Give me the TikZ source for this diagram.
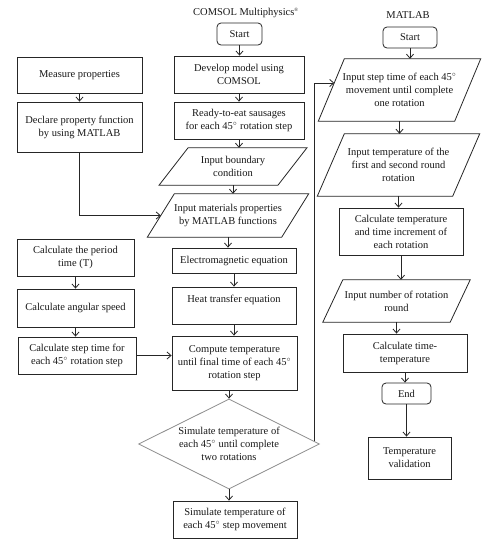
\documentclass[tikz,border=0pt]{standalone}
\usepackage{fontspec}
\setmainfont{Liberation Serif}
\usetikzlibrary{arrows.meta,shapes.geometric,calc}
\tikzset{
  lbl/.style={font=\fontsize{10.5}{13}\selectfont, align=center, inner sep=0pt, text=black!90},
  box/.style 2 args={lbl, draw=black!85, line width=0.8pt, rectangle, minimum width=#1, minimum height=#2},
  rbox/.style 2 args={box={#1}{#2}, rounded corners=4pt},
  pbox/.style 2 args={lbl, rectangle, minimum width=#1, minimum height=#2},
  pline/.style={draw=black!85, line width=0.8pt},
  conn/.style={draw=black!85, line width=0.8pt, -{Straight Barb[length=4pt,width=7pt]}},
}
\newcommand\drawpara[2]{%
  \draw[pline] ($(#1.north west)+(#2/2,0)$) -- ($(#1.north east)+(#2/2,0)$)
    -- ($(#1.south east)-(#2/2,0)$) -- ($(#1.south west)-(#2/2,0)$) -- cycle;}
\begin{document}
\begin{tikzpicture}[x=1pt,y=-1pt]
\fill[white] (0,0) rectangle (490,550);
\useasboundingbox (0,0) rectangle (490,550);

% left column
\node[box={125}{36}] (msr) at (79.5,75) {Measure properties};
\node[box={125}{50}] (decl) at (79.5,127) {Declare property function\\by using MATLAB};
\node[box={117}{37}] (period) at (75.5,257.5) {Calculate the period\\time (T)};
\node[box={117}{38}] (ang) at (75.5,308) {Calculate angular speed};
\node[box={118}{37}] (stept) at (77,355.5) {Calculate step time for\\each 45$^{\circ}$ rotation step};

% COMSOL column
\node[lbl] (t1) at (246,13) {COMSOL Multiphysics\textsuperscript{\tiny\textregistered}};
\node[rbox={45}{22}] (s1) at (239.5,34) {Start};
\node[box={130}{37}] (dev) at (239,74.5) {Develop model using\\COMSOL};
\node[box={130}{37}] (rte) at (239,120.5) {Ready-to-eat sausages\\for each 45$^{\circ}$ rotation step};
\node[pbox={118.5}{37}] (bnd) at (233,166.5) {Input boundary\\condition};
\drawpara{bnd}{29}
\node[pbox={134}{43}] (mat) at (228,215.5) {Input materials properties\\by MATLAB functions};
\drawpara{mat}{27}
\node[box={124}{25}] (em) at (234,260.5) {Electromagnetic equation};
\node[box={124}{37}] (heat) at (234,305.5) {Heat transfer equation\\\mbox{}};
\node[box={125}{54}] (comp) at (234.5,363) {Compute temperature\\until final time of each 45$^{\circ}$\\rotation step};
\node[lbl, diamond, aspect=2, draw=black!45, line width=0.8pt, minimum width=181, minimum height=90] (dia) at (229,444) {Simulate temperature of\\each 45$^{\circ}$ until complete\\two rotations};
\node[box={124}{37}] (sim) at (235,519.5) {Simulate temperature of\\each 45$^{\circ}$ step movement};

% MATLAB column
\node[lbl] (t2) at (408,15) {MATLAB};
\node[rbox={54}{21}] (s2) at (410,37.5) {Start};
\node[pbox={136}{62}] (in1) at (399.5,90) {Input step time of each 45$^{\circ}$\\movement until complete\\one rotation};
\drawpara{in1}{26}
\node[pbox={135}{62}] (in2) at (398.5,165) {Input temperature of the\\first and second round\\rotation};
\drawpara{in2}{27}
\node[box={124}{47}] (calc) at (401,231.5) {Calculate temperature\\and time increment of\\each rotation};
\node[pbox={127}{42}] (in3) at (396.5,301) {Input number of rotation\\round};
\drawpara{in3}{20}
\node[box={124}{38}] (tt) at (405,353) {Calculate time-\\temperature};
\node[rbox={49}{21}] (end) at (406.5,393.5) {End};
\node[box={83}{42}] (val) at (409.5,458) {Temperature\\validation};

% connectors
\foreach \a/\b in {msr/decl, period/ang, ang/stept, s1/dev, dev/rte, rte/bnd, bnd/mat, mat/em, em/heat, heat/comp, s2/in1, in1/in2, in2/calc, calc/in3, in3/tt, tt/end, end/val}
  \draw[conn] (\a.south) -- (\a.south |- \b.north);
\draw[conn] (dia.north |- comp.south) -- (dia.north);
\draw[conn] (dia.south) -- (dia.south |- sim.north);
\draw[conn] (decl.south) |- (mat.west);
\draw[conn] (stept.east) -- (stept.east -| comp.west);
\coordinate (lp) at ($(dia.east)+(-6,-3)$);
\coordinate (lt) at ($(in1.west)+(3,-7)$);
\draw[conn] (lp) -- (lp |- lt) -- (lt);
\end{tikzpicture}
\end{document}
